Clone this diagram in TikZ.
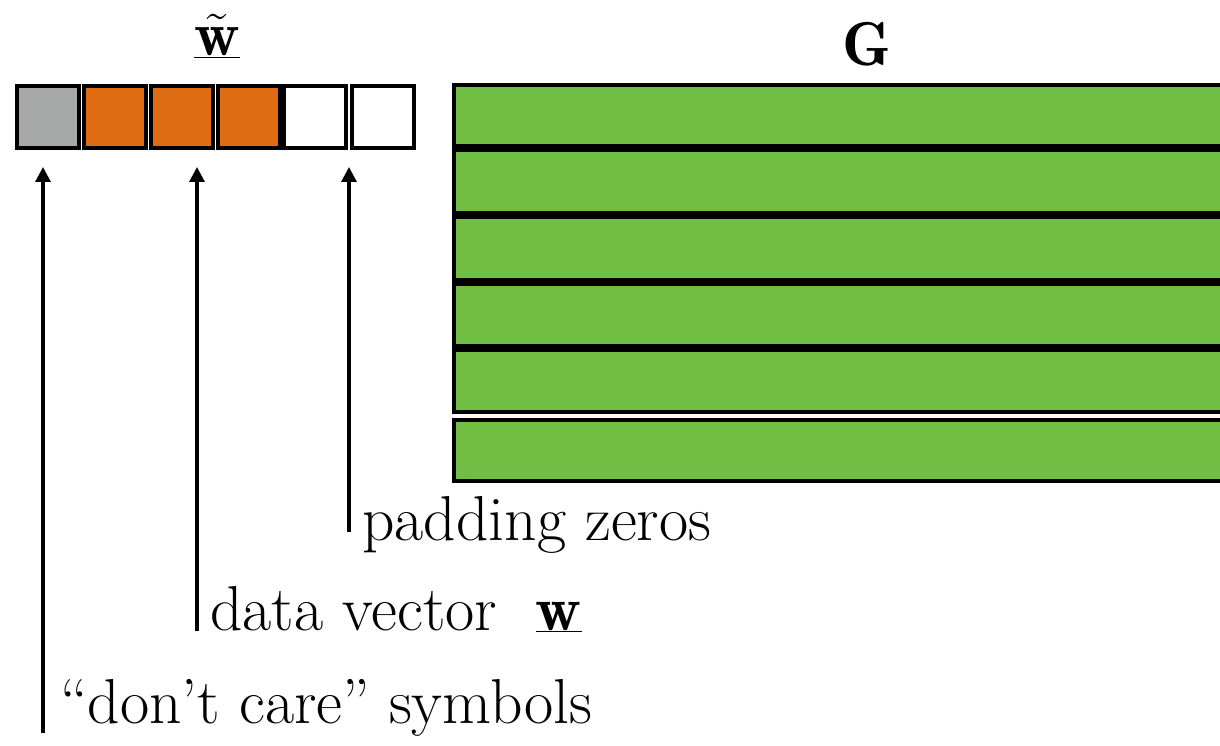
\RequirePackage{fix-cm}
\documentclass[tikz,border=0pt]{standalone}
\usepackage{fontspec}
\usetikzlibrary{arrows.meta,shadows}
\definecolor{cgray}{HTML}{A6A9A8}
\definecolor{corange}{HTML}{DE6C12}
\definecolor{cgreen}{HTML}{70BF44}
\tikzset{
  cell/.style={draw=black, line width=4pt, minimum width=62pt, minimum height=62pt, inner sep=0pt,
    drop shadow={opacity=0.25, shadow xshift=1pt, shadow yshift=-2pt}},
  gmrow/.style={draw=black, line width=4pt, minimum width=786pt, inner sep=0pt, fill=cgreen,
    drop shadow={opacity=0.25, shadow xshift=1pt, shadow yshift=-2pt}},
  arr/.style={line width=3.2pt, -{Triangle[width=15pt,length=15pt]}},
  lbl/.style={anchor=base west, inner sep=0pt, font=\fontsize{63.5}{76}\selectfont},
}
\begin{document}
\begin{tikzpicture}[x=1pt,y=-1pt]
\useasboundingbox (0,0) rectangle (1220,746);
% vector cells
\node[cell, fill=cgray]   (s1) at (48,117) {};
\node[cell, fill=corange] (s2) at (114.5,117) {};
\node[cell, fill=corange] (s3) at (181.5,117) {};
\node[cell, fill=corange] (s4) at (248.5,117) {};
\node[cell, fill=white]   (s5) at (315,117) {};
\node[cell, fill=white]   (s6) at (382.5,117) {};
% label of vector
\node[inner sep=0pt, font=\fontsize{63}{76}\selectfont] (wt) at (217,36) {$\underline{\tilde{\mathbf{w}}}$};
% matrix G rows
\node[gmrow, minimum height=61pt] (g1) at (847,115.5) {};
\node[gmrow, minimum height=63pt] (g2) at (847,181.5) {};
\node[gmrow, minimum height=63pt] (g3) at (847,248.5) {};
\node[gmrow, minimum height=62pt] (g4) at (847,315) {};
\node[gmrow, minimum height=62pt] (g5) at (847,381) {};
\node[gmrow, minimum height=61pt] (g6) at (847,450.5) {};
\node[inner sep=0pt, font=\fontsize{62}{74}\selectfont] (G) at (867,44) {$\mathbf{G}$};
% annotation texts
\node[lbl] (pz) at (362,540) {padding zeros};
\node[lbl] (dv) at (210,630) {data vector \ $\underline{\mathbf{w}}$};
\node[lbl] (dc) at (60,723) {``don't care'' symbols};
% arrows
\coordinate (b1) at (43,733);
\coordinate (b2) at (197,631);
\coordinate (b3) at (349,532);
\coordinate (t1) at (43,167);
\coordinate (t2) at (197,167);
\coordinate (t3) at (349,167);
\draw[arr] (b1) -- (t1);
\draw[arr] (b2) -- (t2);
\draw[arr] (b3) -- (t3);
\end{tikzpicture}
\end{document}
